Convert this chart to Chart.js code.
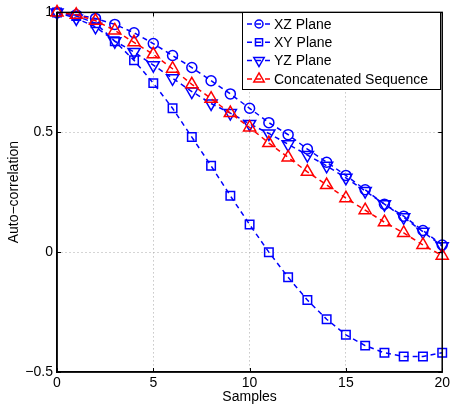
<!DOCTYPE html>
<html><head><meta charset="utf-8">
<script src="https://cdn.jsdelivr.net/npm/chart.js@4"></script>
<style>html,body{margin:0;padding:0;background:#fff}#wrap{width:453px;height:406px}</style>
</head><body><div id="wrap"><canvas id="c" width="453" height="406"></canvas></div>
<script>
const samples = [0,1,2,3,4,5,6,7,8,9,10,11,12,13,14,15,16,17,18,19,20];
const xzPlane = [1.0,0.99,0.975,0.95,0.915,0.87,0.82,0.77,0.715,0.66,0.60,0.54,0.49,0.43,0.375,0.32,0.26,0.20,0.15,0.09,0.03];
const xyPlane = [1.0,0.985,0.955,0.88,0.80,0.705,0.60,0.48,0.36,0.235,0.115,0.0,-0.105,-0.20,-0.28,-0.345,-0.39,-0.42,-0.435,-0.435,-0.42];
const yzPlane = [1.0,0.975,0.94,0.88,0.835,0.78,0.725,0.67,0.62,0.58,0.535,0.495,0.45,0.405,0.36,0.31,0.255,0.20,0.145,0.085,0.025];
const concatSeq = [1.0,0.99,0.965,0.925,0.875,0.825,0.765,0.70,0.64,0.58,0.52,0.455,0.395,0.335,0.28,0.225,0.175,0.125,0.08,0.03,-0.015];
const seriesLabels = ['XZ Plane','XY Plane','YZ Plane','Concatenated Sequence'];
const xTicks = [0,5,10,15,20];
const yTicks = [-0.5,0,0.5,1];

const FONT = '"Liberation Sans", Arial, Helvetica, sans-serif';
const BLUE = '#0000ff', RED = '#ff0000';

function mk(label, arr, color, style, radius, rot, order){
  return {
    label, data: samples.map((s,i)=>({x:s,y:arr[i]})),
    borderColor: color, backgroundColor: 'rgba(0,0,0,0)',
    borderWidth: 1.5, borderDash: [5,4], tension: 0,
    pointStyle: style, pointRadius: radius, pointRotation: rot,
    pointBorderColor: color, pointBackgroundColor: 'rgba(0,0,0,0)',
    pointBorderWidth: 1.5, clip: false, order
  };
}
const datasets = [
  mk(seriesLabels[0], xzPlane, BLUE, 'circle', 5, 0, 4),
  mk(seriesLabels[1], xyPlane, BLUE, 'rect', 6, 0, 3),
  mk(seriesLabels[2], yzPlane, BLUE, 'triangle', 7, 180, 2),
  mk(seriesLabels[3], concatSeq, RED, 'triangle', 7, 0, 1)
];

const framePlugin = {
  id: 'frame',
  afterDatasetsDraw(chart){
    const {ctx, chartArea: a, scales} = chart;
    ctx.save();
    ctx.strokeStyle = '#000'; ctx.lineWidth = 1;
    ctx.beginPath();
    xTicks.forEach(v=>{ const px = Math.round(scales.x.getPixelForValue(v))+0.5;
      ctx.moveTo(px,a.bottom); ctx.lineTo(px,a.bottom-4);
      ctx.moveTo(px,a.top); ctx.lineTo(px,a.top+4); });
    yTicks.forEach(v=>{ const py = Math.round(scales.y.getPixelForValue(v))+0.5;
      ctx.moveTo(a.left,py); ctx.lineTo(a.left+4,py);
      ctx.moveTo(a.right,py); ctx.lineTo(a.right-4,py); });
    ctx.stroke();
    ctx.lineWidth = 1.5;
    ctx.strokeRect(a.left, a.top, a.right-a.left, a.bottom-a.top);
    // legend
    const bx=242, by=12, bw=198, bh=77;
    ctx.fillStyle='#fff'; ctx.fillRect(bx,by,bw,bh);
    ctx.lineWidth=1; ctx.strokeStyle='#000'; ctx.strokeRect(bx+0.5,by+0.5,bw,bh);
    chart.data.datasets.forEach((d,i)=>{
      const y = 24 + i*18.3;
      ctx.save();
      ctx.strokeStyle=d.borderColor; ctx.lineWidth=1.5; ctx.setLineDash([5,4]);
      ctx.beginPath(); ctx.moveTo(247,y); ctx.lineTo(271,y); ctx.stroke();
      ctx.setLineDash([]);
      ctx.fillStyle='rgba(0,0,0,0)';
      Chart.helpers.drawPoint(ctx,{pointStyle:d.pointStyle, radius:d.pointRadius-1, rotation:d.pointRotation, borderWidth:1.5}, 259, y);
      ctx.restore();
      ctx.fillStyle='#000'; ctx.font='14px '+FONT; ctx.textBaseline='middle'; ctx.textAlign='left';
      ctx.fillText(d.label, 274, y+1);
    });
    ctx.restore();
  }
};

new Chart(document.getElementById('c'), {
  type: 'line',
  data: { datasets },
  options: {
    responsive: false, animation: false,
    layout: { padding: { left: 0, right: 10, top: 11, bottom: 0 } },
    plugins: { legend: { display: false }, tooltip: { enabled: false } },
    scales: {
      x: {
        type: 'linear', min: 0, max: 20,
        afterFit(s){ s.height = 34; },
        afterBuildTicks(s){ s.ticks = xTicks.map(v=>({value:v})); },
        ticks: { color:'#000', font:{family:FONT,size:14}, padding: 3, maxRotation:0 },
        grid: { drawTicks:false, color:(c)=> (c.tick && (c.tick.value===0||c.tick.value===20)) ? 'rgba(0,0,0,0)' : '#aaa', lineWidth:1 , borderDash:[1,3]},
        border: { display:true, color:'#000', width:1.5, dash:[1,3] },
        title: { display:true, text:'Samples', color:'#000', font:{family:FONT,size:14}, padding:{top:0,bottom:0} }
      },
      y: {
        type: 'linear', min: -0.5, max: 1,
        afterFit(s){ s.width = 57; },
        afterBuildTicks(s){ s.ticks = yTicks.map(v=>({value:v})); },
        ticks: { color:'#000', font:{family:FONT,size:14}, padding: 4,
          callback:(v)=> String(v).replace('-','\u2212') },
        grid: { drawTicks:false, color:(c)=> (c.tick && (c.tick.value===-0.5||c.tick.value===1)) ? 'rgba(0,0,0,0)' : '#aaa', lineWidth:1 },
        border: { display:true, color:'#000', width:1.5, dash:[1,3] },
        title: { display:true, text:'Auto\u2212correlation', color:'#000', font:{family:FONT,size:14}, padding:{top:6,bottom:0} }
      }
    }
  },
  plugins: [framePlugin]
});
</script></body></html>
